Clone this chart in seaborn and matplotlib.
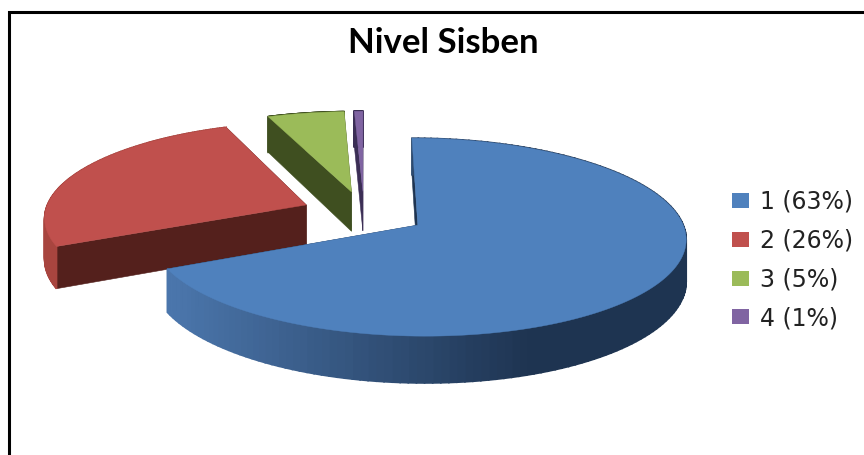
import numpy as np
import pandas as pd
import matplotlib
matplotlib.use("Agg")
import matplotlib.pyplot as plt
from matplotlib.patches import Patch
import seaborn as sns

# ─────────────────────────────────────────────
# DATA
# ─────────────────────────────────────────────
CATEGORIES = ["1", "2", "3", "4"]
LABEL_PCT = [63, 26, 5, 1]        # as printed in the legend
SLICE_PCT = [68, 26, 5.4, 0.6]    # as measured from the slice angles

# ─────────────────────────────────────────────
# STYLE
# ─────────────────────────────────────────────
TOP_COLORS = ["#4f81bd", "#c0504d", "#9bbb59", "#8064a2"]
WALL_COLORS = ["#1e3451", "#54201c", "#3f4f20", "#3b2e55"]
RIM_COLORS = [("#4b76ac", "#1e3451"), ("#a8453f", "#a8453f"),
              ("#3f4f20", "#3f4f20"), ("#3b2e55", "#3b2e55")]

CX, CY = 364, 213      # pie centre on the canvas
RX, RY = 261.5, 94.6   # radii
PERSP = 0.12           # perspective strength
DEPTH = 40.5           # extruded height
EXPLODE_U = 0.24
EXPLODE_V = 0.235

df = pd.DataFrame({"cat": CATEGORIES, "label_pct": LABEL_PCT, "pct": SLICE_PCT})
df["legend"] = df["cat"] + " (" + df["label_pct"].astype(str) + "%)"
df["end"] = df["pct"].cumsum() / df["pct"].sum() * 2 * np.pi
df["start"] = df["end"].shift(1, fill_value=0.0)

sns.set_theme(style="white")
palette = sns.color_palette(TOP_COLORS)


def project(u, v, down=0.0):
    w = 1 + PERSP * v
    return CX + RX * u / w, CY - RY * v / w + down * DEPTH / w


def slice_outline(start, end, n=160):
    mid = (start + end) / 2
    ou, ov = EXPLODE_U * np.sin(mid), EXPLODE_V * np.cos(mid)
    t = np.linspace(start, end, n)
    return ou, ov, ou + np.sin(t), ov + np.cos(t)


fig, ax = plt.subplots(figsize=(8.64, 4.55), dpi=100)
fig.subplots_adjust(0, 0, 1, 1)
ax.set_xlim(0, 864)
ax.set_ylim(455, 0)
ax.axis("off")

# ─────────────────────────────────────────────
# SLICES (back ones first, the big one on top)
# ─────────────────────────────────────────────
for i in [1, 2, 3, 0]:
    row = df.iloc[i]
    ou, ov, u, v = slice_outline(row["start"], row["end"])

    # cut walls
    for k in (0, -1):
        x0, y0 = project(ou, ov)
        x1, y1 = project(u[k], v[k])
        x2, y2 = project(u[k], v[k], 1)
        x3, y3 = project(ou, ov, 1)
        ax.fill([x0, x1, x2, x3], [y0, y1, y2, y3], color=WALL_COLORS[i], lw=0.4, zorder=2)

    # outer rim, strip by strip for the gradient
    shades = sns.blend_palette(RIM_COLORS[i], n_colors=64)
    xt, yt = project(u, v)
    xb, yb = project(u, v, 1)
    for j in range(len(u) - 1):
        shade = np.clip((xt[j] - 170) / 360, 0, 1)
        ax.fill([xt[j], xt[j + 1], xb[j + 1], xb[j]], [yt[j], yt[j + 1], yb[j + 1], yb[j]],
                color=shades[int(shade * 63)], lw=1.2, zorder=2)

    # top face
    x0, y0 = project(ou, ov)
    ax.fill(np.r_[x0, xt], np.r_[y0, yt], color=palette[i], lw=0.3, zorder=2)

# ─────────────────────────────────────────────
# FRAME, TITLE, LEGEND
# ─────────────────────────────────────────────
ax.plot([9, 9, 864], [455, 12, 12], color="black", lw=2.2, solid_joinstyle="miter", zorder=1)

ax.text(443, 43, "Nivel Sisben", ha="center", va="center", fontsize=25,
        fontweight="bold", family="Lato", color="black")

handles = [Patch(facecolor=c, edgecolor="none", label=t) for c, t in zip(palette, df["legend"])]
ax.legend(handles=handles, loc="center left", bbox_to_anchor=(732 / 864, 1 - 260 / 455),
          frameon=False, prop={"family": "DejaVu Sans", "size": 17},
          handlelength=0.72, handleheight=0.6, handletextpad=0.47,
          labelspacing=0.63, borderpad=0, borderaxespad=0, labelcolor="#222222")

fig.savefig("out.png", dpi=100)
